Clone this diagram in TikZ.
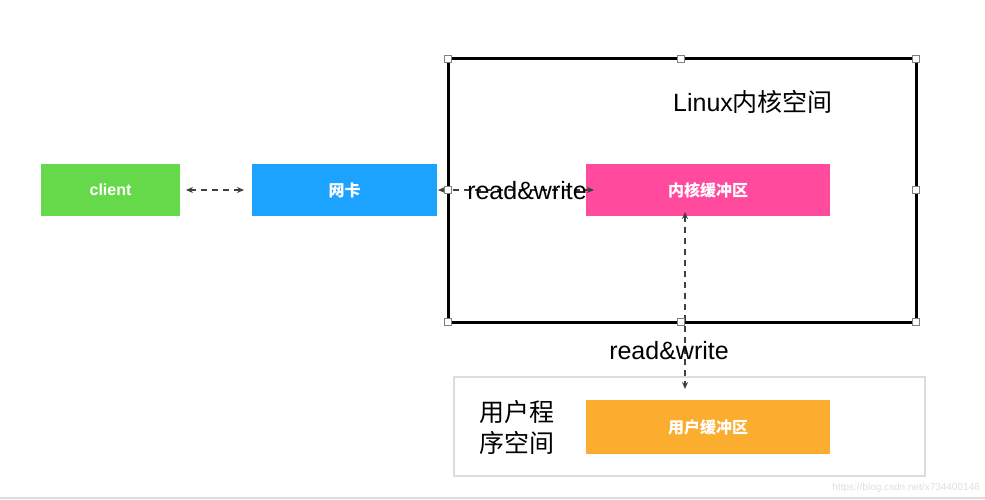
\documentclass[tikz,border=0pt]{standalone}
\usepackage{fontspec}
\setmainfont{Liberation Sans}
\newfontfamily\cjk{Noto Sans CJK SC}
\usetikzlibrary{arrows.meta}
\definecolor{cgreen}{HTML}{66D94A}
\definecolor{cblue}{HTML}{1CA2FF}
\definecolor{cpink}{HTML}{FF4A9E}
\definecolor{corange}{HTML}{FBAD2F}
\definecolor{cgrayline}{HTML}{DCDCDC}
\tikzset{
  fillbox/.style={draw=none, minimum height=52pt, inner sep=0pt, text=white, font=\fontsize{16}{18}\selectfont\bfseries},
  handle/.style={draw=gray, fill=white, line width=0.7pt, minimum size=7pt, inner sep=0pt},
  dasharrow/.style={dash pattern=on 6pt off 5pt, line width=1.3pt, draw=black!75, {Stealth[length=7pt,width=6pt]}-{Stealth[length=7pt,width=6pt]}},
  bigtext/.style={font=\fontsize{25}{30}\selectfont, text=black, inner sep=0pt}
}
\begin{document}
\begin{tikzpicture}[x=1pt,y=-1pt]
\useasboundingbox[fill=white] (0,0) rectangle (985,500);
% bottom line
\draw[cgrayline, line width=1.5pt] (0,498) -- (985,498);
% kernel space frame
\draw[line width=3pt, black] (448,59) rectangle (916,322);
\node[bigtext, anchor=west] (linuxlbl) at (673,102) {Linux{\cjk 内核空间}};
% user space frame
\draw[cgrayline, line width=1.5pt] (454,377) rectangle (925,476);
\node[bigtext, align=left, anchor=west, font=\fontsize{25}{31}\selectfont\cjk] (userlbl) at (479,427) {用户程\\序空间};
% boxes
\node[fillbox, fill=cgreen, minimum width=139pt] (client) at (110.5,190) {client};
\node[fillbox, fill=cblue, minimum width=185pt] (nic) at (344.5,190) {\cjk\bfseries 网卡};
\node[fillbox, fill=cpink, minimum width=244pt] (kbuf) at (708,190) {\cjk\bfseries 内核缓冲区};
\node[fillbox, fill=corange, minimum width=244pt, minimum height=54pt] (ubuf) at (708,427) {\cjk\bfseries 用户缓冲区};
% coordinates for connector ends
\coordinate (c1) at (186,190);
\coordinate (c2) at (244,190);
\coordinate (n1) at (438,190);
\coordinate (k1) at (594,190);
\coordinate (v1) at (685,212);
\coordinate (v2) at (685,389);
\draw[dasharrow] (c1) -- (c2);
\draw[dasharrow] (n1) -- (k1);
\draw[dasharrow] (v1) -- (v2);
% labels
\node[bigtext] (rw1) at (527,191) {read\&write};
\node[bigtext] (rw2) at (669,351) {read\&write};
% handles
\foreach \p in {(448,59),(681,59),(916,59),(448,190),(916,190),(448,322),(681,322),(916,322)}
  \node[handle] at \p {};
% watermark
\node[anchor=east, text=black!12, font=\fontsize{10}{12}\selectfont, inner sep=0pt] (wm) at (980,488) {https://blog.csdn.net/x734400146};
\end{tikzpicture}
\end{document}
